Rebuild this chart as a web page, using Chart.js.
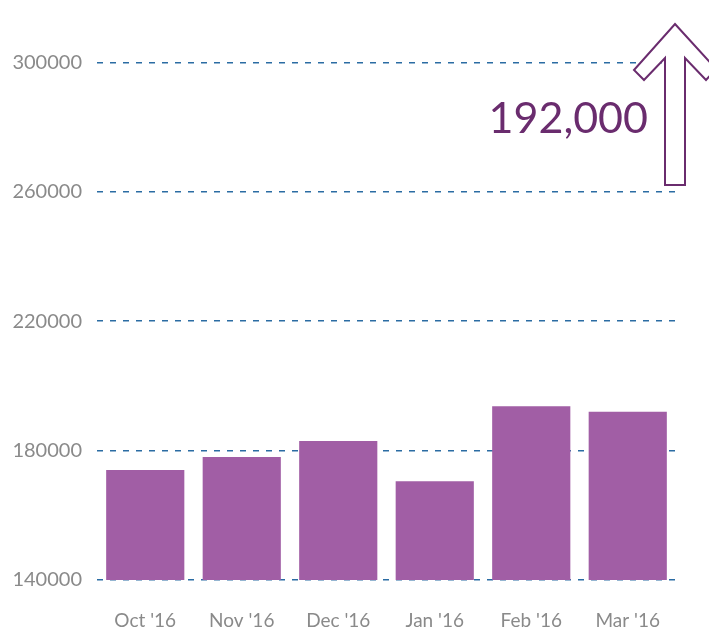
<!DOCTYPE html>
<html>
<head>
<meta charset="utf-8">
<script src="https://cdn.jsdelivr.net/npm/chart.js@4"></script>
<style>
  html, body { margin: 0; padding: 0; background: #fff; }
  #wrap { width: 709px; height: 630px; }
</style>
</head>
<body>
<div id="wrap"><canvas id="visitsChart" width="709" height="630"></canvas></div>
<script>
const months = ["Oct '16", "Nov '16", "Dec '16", "Jan '16", "Feb '16", "Mar '16"];
const visits = [174000, 178000, 183000, 170500, 193700, 192000];
const yTicks = [140000, 180000, 220000, 260000, 300000];
const calloutText = '192,000';

const purple = '#a15ea5';
const darkPurple = '#6a2c6e';
const gray = '#8a8a8a';

// big outlined arrow + number in the top right corner
const callout = {
    id: 'callout',
    afterDraw(chart) {
        const c = chart.ctx;
        const a = chart.chartArea;
        const cx = a.right - 1, top = 24;
        c.save();
        c.font = '43px Lato';
        c.fillStyle = darkPurple;
        c.textAlign = 'right';
        c.textBaseline = 'alphabetic';
        c.fillText(calloutText, cx - 27, 133);

        c.beginPath();
        c.moveTo(cx, top);
        c.lineTo(cx + 41, top + 45);
        c.lineTo(cx + 31, top + 56);
        c.lineTo(cx + 10, top + 34);
        c.lineTo(cx + 10, 185);
        c.lineTo(cx - 10, 185);
        c.lineTo(cx - 10, top + 34);
        c.lineTo(cx - 31, top + 56);
        c.lineTo(cx - 41, top + 46);
        c.closePath();
        c.fillStyle = '#fff';
        c.fill();
        c.lineWidth = 2;
        c.strokeStyle = darkPurple;
        c.stroke();
        c.restore();
    }
};

const ctx = document.getElementById('visitsChart').getContext('2d');
const visitsChart = new Chart(ctx, {
    type: 'bar',
    data: {
        labels: months,
        datasets: [{
            data: visits,
            backgroundColor: purple,
            borderWidth: 0,
            categoryPercentage: 0.81,
            barPercentage: 1
        }]
    },
    options: {
        responsive: false,
        animation: false,
        layout: { padding: { top: 30, right: 33, left: 0, bottom: 0 } },
        scales: {
            x: {
                afterFit(scale) { scale.height = 50; },
                grid: { display: false, drawTicks: false },
                border: { display: false },
                ticks: { color: gray, font: { family: 'Lato', size: 19 }, padding: 29 }
            },
            y: {
                min: 140000,
                max: 310000,
                afterBuildTicks(scale) {
                    scale.ticks = yTicks.map(v => ({ value: v }));
                },
                afterFit(scale) { scale.width = 97; },
                grid: {
                    color: '#2b6ca3',
                    lineWidth: 1.5,
                    drawTicks: false
                },
                border: { display: false, dash: [6, 7] },
                ticks: {
                    color: gray,
                    font: { family: 'Lato', size: 20 },
                    padding: 15,
                    callback: v => String(v)
                }
            }
        },
        plugins: {
            legend: { display: false },
            tooltip: { enabled: false }
        }
    },
    plugins: [callout]
});
</script>
</body>
</html>
